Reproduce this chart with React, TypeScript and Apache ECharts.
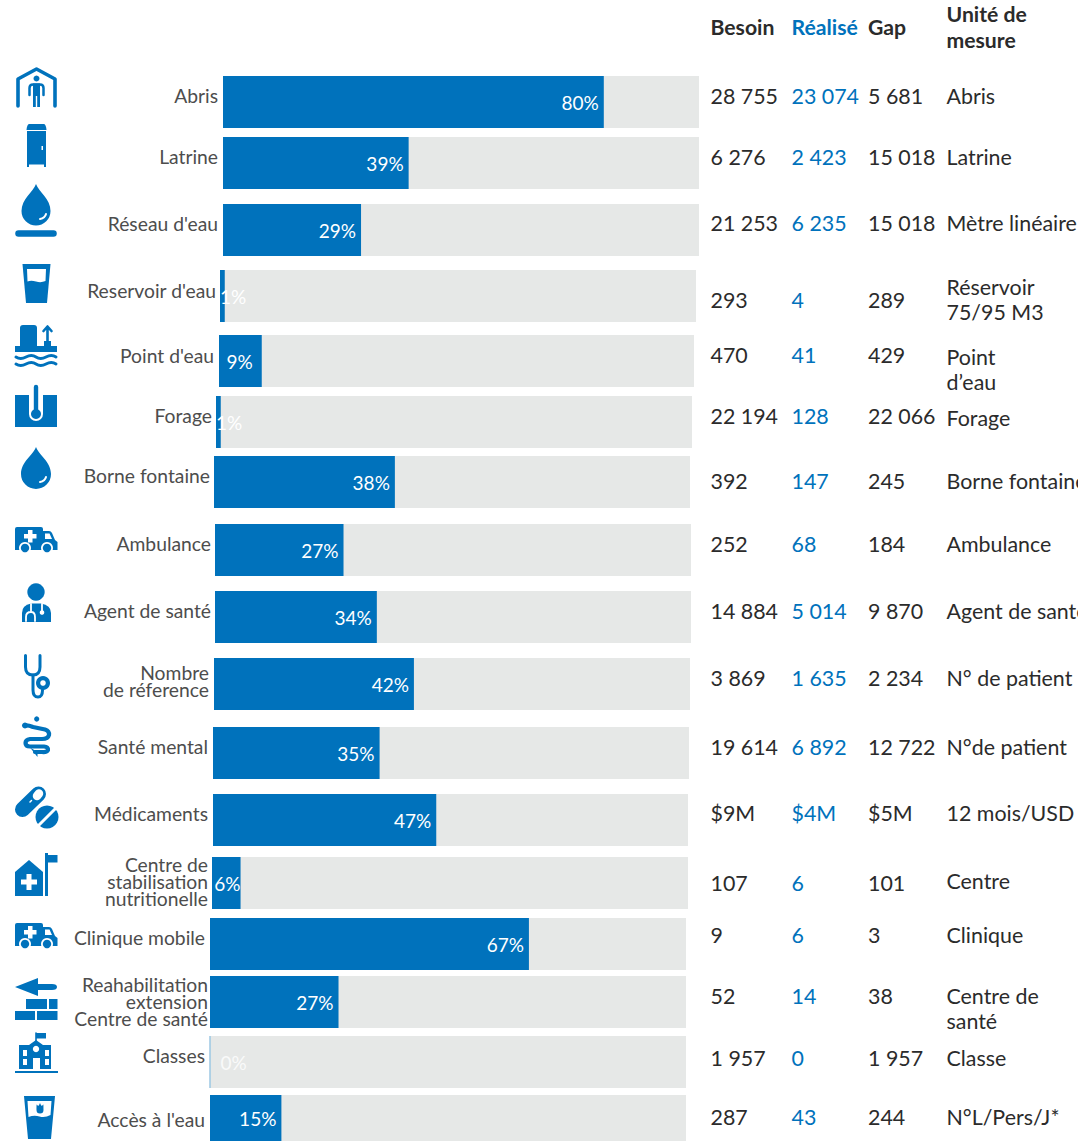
import React, { useEffect, useRef } from "react";
import * as echarts from "echarts";

const categories = ["Abris", "Latrine", "Réseau d'eau", "Reservoir d'eau", "Point d'eau", "Forage", "Borne fontaine", "Ambulance", "Agent de santé", "Nombre\nde réference", "Santé mental", "Médicaments", "Centre de\nstabilisation\nnutritionelle", "Clinique mobile", "Reahabilitation\nextension\nCentre de santé", "Classes", "Accès à l'eau"];
const percent = [80, 39, 29, 1, 9, 1, 38, 27, 34, 42, 35, 47, 6, 67, 27, 0, 15];
const besoin = ["28 755", "6 276", "21 253", "293", "470", "22 194", "392", "252", "14 884", "3 869", "19 614", "$9M", "107", "9", "52", "1 957", "287"];
const realise = ["23 074", "2 423", "6 235", "4", "41", "128", "147", "68", "5 014", "1 635", "6 892", "$4M", "6", "6", "14", "0", "43"];
const gap = ["5 681", "15 018", "15 018", "289", "429", "22 066", "245", "184", "9 870", "2 234", "12 722", "$5M", "101", "3", "38", "1 957", "244"];
const units = ["Abris", "Latrine", "Mètre linéaire", "Réservoir\n75/95 M3", "Point\nd’eau", "Forage", "Borne fontaine", "Ambulance", "Agent de santé", "N° de patient", "N°de patient", "12 mois/USD", "Centre", "Clinique", "Centre de\nsanté", "Classe", "N°L/Pers/J*"];

// layout of each row: track left, track right, track top, track bottom
const rowBox = [[223, 699, 76, 128], [223, 699, 137, 189], [223, 699, 204, 256], [220, 696, 270, 322], [219, 694, 335, 387], [216, 692, 396, 448], [214, 690, 456, 508], [215, 691, 524, 576], [215, 691, 591, 643], [214, 690, 658, 710], [213, 689, 727, 779], [213, 688, 794, 846], [212, 688, 857, 909], [210, 686, 918, 970], [210, 686, 976, 1028], [210, 686, 1036, 1088], [210, 686, 1095, 1141]];
const catShift = [-7, -7, -7, -6, -6, -7, -7, -7, -7, -3.5, -7, -7, -2, -7, -1, -7, 1];
const catMargin = [5, 5, 5, 4, 5, 4, 4, 4, 4, 5, 5, 5, 4, 5, 2, 5, 5];
const numY = [96, 157, 223, 300, 355, 416, 481, 544, 611, 678, 747, 813, 883, 935, 996, 1058, 1117];
const unitY = [96, 157, 223, 287, 357, 418, 481, 544, 611, 678, 747, 813, 881, 935, 996, 1058, 1117];
const FONT = "Lato, Carlito, 'Open Sans', sans-serif";
const BLUE = "#0072BC";
const INK = "#2B2B2B";
const W = "#ffffff";

type Part = any;
let shapeId = 0;
function shape(d: string) {
  const n = "ico" + shapeId++;
  echarts.graphic.registerShape(n, echarts.graphic.extendPath(d, {}));
  return n;
}
const f = (d: string, fill = BLUE): Part => ({ type: shape(d), style: { fill, stroke: "none" } });
const s = (d: string, lineWidth: number, stroke = BLUE): Part => ({ type: shape(d), style: { fill: "none", stroke, lineWidth, lineCap: "round", lineJoin: "round" } });
const c = (cx: number, cy: number, r: number, fill = BLUE): Part => ({ type: "circle", shape: { cx, cy, r }, style: { fill } });

function ambulance(dy: number): Part[] {
  return [
    f(`M17 ${527 + dy}H41Q43 ${527 + dy} 43 ${529 + dy}V${531 + dy}H49Q51 ${531 + dy} 52 ${533 + dy}L55 ${540 + dy}L57.5 ${542 + dy}V${550 + dy}H15V${529 + dy}Q15 ${527 + dy} 17 ${527 + dy}Z`),
    f(`M45 ${533.5 + dy}H49.5L52 ${539 + dy}H45Z`, W),
    f(`M28 ${530 + dy}H32.5V${534 + dy}H36.5V${538.5 + dy}H32.5V${542.5 + dy}H28V${538.5 + dy}H24V${534 + dy}H28Z`, W),
    c(25, 548 + dy, 6, W), c(25, 548 + dy, 4.2), c(47, 548 + dy, 6, W), c(47, 548 + dy, 4.2),
  ];
}
function drop(cx: number, tip: number, cy: number, r: number): Part[] {
  return [
    f(`M${cx} ${tip}C${cx - 3} ${tip + 8} ${cx - r} ${cy - 12} ${cx - r} ${cy}A${r} ${r} 0 0 0 ${cx + r} ${cy}C${cx + r} ${cy - 12} ${cx + 3} ${tip + 8} ${cx} ${tip}Z`),
    s(`M${cx + 4} ${cy + 8}Q${cx + 9} ${cy + 7} ${cx + 10} ${cy + 3}`, 2, W),
  ];
}
function icons(): Part[] {
  return [
    // Abris
    s("M18 106V79L36.5 69L55 79V106", 3.6), c(36.5, 78.5, 3), f("M33 83.5H40V107H37.2V96H35.8V107H33Z"), s("M29.5 95V88Q29.5 84.5 33 84.5H40Q43.5 84.5 43.5 88V95", 2.5),
    // Latrine
    f("M29 124H44Q46 124.5 46.5 130H26.5Q27 124.5 29 124Z"), f("M27 131H46V167H44V164.5H29V167H27Z"), f("M41.5 146H43V150H41.5Z", W),
    // Réseau
    ...drop(36, 184, 211, 14.5), s("M18.5 233.5H53.5", 6.5),
    // Réservoir
    f("M22.5 264H50.5L47 303H26Z"), f("M27 269H46L45.5 281Q41 283 36 281.5Q31 280 27.5 281.5Z", W),
    // Point d'eau
    f("M20 347V328Q20 325 23 325H34Q37 325 37 328V347Z"), s("M47.5 343V328M43.5 331L47.5 326.5L51.5 331", 2.6), f("M44 341H51V347H44Z"), f("M15 346H57V352H15Z"),
    s("M16 357Q20.5 360 26 357T36 357T46 357T56 357", 3), s("M16 364Q20.5 367 26 364T36 364T46 364T56 364", 3),
    // Forage
    f("M15 395H57V427H15Z"), f("M29 395H43V414A7 7 0 0 1 29 414Z", W), s("M36 387V414", 4.4), c(36, 414, 5),
    // Borne fontaine
    ...drop(36, 447, 474, 15),
    // Ambulance
    ...ambulance(0),
    // Agent de santé
    c(36, 592, 8.7), f("M22 622V613Q22 605 31 603.5H41Q51 605 51 613V622Z"), s("M31 604V611M26 621V617Q26 612 31 612Q35 612 35 617V621", 1.8, W), s("M42 604V611", 1.8, W), c(42, 612.5, 2.3, W),
    // Stéthoscope
    s("M25.5 655.5V667Q25.5 675 33 675Q40 675 40 667V655.5", 3), s("M33 675V690Q33 697 38 697Q42.5 697 42.5 690", 3), c(43, 683, 7), c(43, 683, 2.8, W),
    // Caducée
    c(36.7, 719, 2.6), s("M25 725.5Q28 725 33 727L45 729.5Q49.5 731 49 735Q48 739 42 739H30Q25.5 739.5 25.5 743Q25.5 746.5 30 746.5H44Q48.5 747 48 750Q47 752.5 42 752H35", 4.2), f("M30 747.5L37.5 752V757Z"), c(25, 725.5, 3),
    // Médicaments
    s("M22.5 809.5L38.5 794", 15), s("M37 796L39 793.5", 8.5, W), s("M30 802L31.5 800.5", 1.5, W), c(47, 817, 11.5), s("M39 825L55 809", 3, W),
    // Centre
    f("M29 860L43 872V896H15V872Z"), f("M26.5 874H31.5V879.5H37V884.5H31.5V890H26.5V884.5H21V879.5H26.5Z", W), f("M45 853H48V896H45Z"), f("M48 855H57.5V862.5H48Z"),
    // Clinique
    ...ambulance(396),
    // Réhabilitation
    f("M15 987L38 978V984H52Q57 984 57 987Q57 990 52 990H38V996Z"), f("M26 999H47V1009H26Z"), f("M49 999H57.5V1009H49Z"), f("M15 1011H35V1020H15Z"), f("M37 1011H57.5V1020H37Z"),
    // Classes
    s("M36 1042V1033", 1.6), f("M36 1033H46V1038.5H36Z"), f("M36 1040L43 1045H51V1069H19V1045H29Z"), c(36, 1049, 3.2, W), f("M33 1058H40V1069H33Z", W), f("M23 1050H27V1056H23Z", W), f("M23 1059H27V1065H23Z", W), f("M45 1050H49V1056H45Z", W), f("M45 1059H49V1065H45Z", W), f("M15 1071H58V1073H15Z"),
    // Accès
    f("M24 1096H55L51 1139H28Z"), f("M27.5 1101H51.5L50.5 1115Q45 1118 39.5 1116.5Q34 1115 28.5 1117Z", W), ...drop(40, 1103, 1110, 3.5).slice(0, 1),
  ];
}

const txt = (text: string, x: number, y: number, fill: string, fontSize = 21.4, fontWeight: any = 400, align = "left"): Part => ({
  type: "text", x, y, silent: true,
  style: { text, fill, fontSize, fontWeight, fontFamily: FONT, verticalAlign: "middle", align },
});

function tableTexts(): Part[] {
  const out: Part[] = [
    txt("Besoin", 710.5, 27, INK, 21.2, 700), txt("Réalisé", 791.5, 27, BLUE, 21.2, 700), txt("Gap", 868, 27, INK, 21.2, 700),
    txt("Unité de", 946.5, 14, INK, 21.2, 700), txt("mesure", 946.5, 40, INK, 21.2, 700),
  ];
  categories.forEach((name, i) => {
    const [l, , t, b] = rowBox[i];
    const lines = name.split("\n");
    const mid = (t + b) / 2 + catShift[i];
    lines.forEach((line, k) => out.push(txt(line, l - catMargin[i], mid + (k - (lines.length - 1) / 2) * 17, "#4D4D4D", 19.3, 400, "right")));
    out.push(txt(besoin[i], 710.5, numY[i], INK), txt(realise[i], 791.5, numY[i], BLUE), txt(gap[i], 868, numY[i], INK));
    units[i].split("\n").forEach((line, k) => out.push(txt(line, 946.5, unitY[i] + k * 25, INK)));
  });
  return out;
}

function labelFor(v: number): any {
  const base: any = { show: true, color: "#fff", fontSize: 19, fontFamily: FONT, formatter: "{c}%" };
  if (v <= 1) return { ...base, position: "insideLeft", distance: v === 0 ? 11 : 0, opacity: v === 0 ? 0.8 : 1 };
  if (v === 9) return { ...base, position: "insideRight", distance: 9 };
  if (v === 6) return { ...base, position: "insideRight", distance: 0 };
  return { ...base, position: "insideRight", distance: 5 };
}

function buildOption() {
  return {
    animation: false,
    backgroundColor: "#ffffff",
    grid: rowBox.map(([l, r, t, b]) => ({ left: l, top: t, width: r - l, height: b - t })),
    xAxis: rowBox.map((_, i) => ({ type: "value", gridIndex: i, min: 0, max: 100, show: false })),
    yAxis: categories.map((name, i) => ({
      type: "category", gridIndex: i, data: [name],
      axisLine: { show: false }, axisTick: { show: false }, splitLine: { show: false }, axisLabel: { show: false },
    })),
    series: percent.map((v, i) => ({
      type: "bar", xAxisIndex: i, yAxisIndex: i, barWidth: "100%", data: [v],
      itemStyle: { color: BLUE, borderColor: v === 0 ? "#9CC7E3" : BLUE, borderWidth: v === 0 ? 1 : 0 },
      showBackground: true, backgroundStyle: { color: "#E6E8E7" },
      label: labelFor(v),
    })),
    graphic: { elements: [...icons(), ...tableTexts()] },
  };
}

export default function App() {
  const ref = useRef<HTMLDivElement>(null);
  useEffect(() => {
    const chart = echarts.init(ref.current!, undefined, { renderer: "svg" });
    chart.setOption(buildOption());
    return () => chart.dispose();
  }, []);
  return <div ref={ref} style={{ position: "absolute", left: 0, top: 0, width: 1078, height: 1141, overflow: "hidden" }} />;
}
